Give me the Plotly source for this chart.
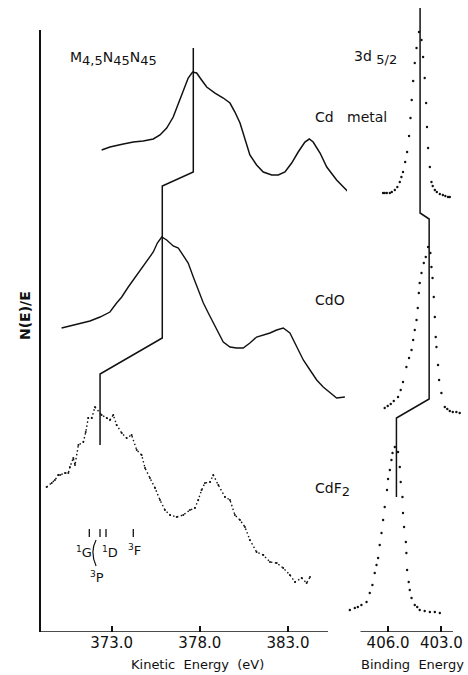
import plotly.graph_objects as go

# ==================================== data
# intensities are in arbitrary units, stacked with offsets as in the original

# Auger M4,5N45N45, kinetic energy (eV)
metal_ke = [372.43, 372.90, 373.66, 374.23, 374.79, 375.36, 375.74, 376.12, 376.49, 376.78,
            377.06, 377.34, 377.59, 377.82, 378.10, 378.39, 378.86, 379.33, 379.71, 379.99,
            380.28, 380.56, 380.84, 381.22, 381.60, 382.08, 382.45, 382.83, 383.21, 383.58,
            383.96, 384.21, 384.43, 384.82, 385.20, 385.76, 386.23, 386.70]
metal_auger = [482, 485, 488, 490, 491, 493, 497, 504, 515, 529,
               542, 554, 560, 559, 552, 545, 539, 534, 529, 520,
               509, 492, 477, 467, 460, 457, 457, 460, 469, 480,
               490, 493, 490, 479, 465, 452, 444, 435]

cdo_ke = [370.16, 370.63, 371.20, 371.77, 372.34, 372.90, 373.28, 373.57, 373.94, 374.23,
          374.51, 374.79, 375.08, 375.36, 375.59, 375.84, 376.12, 376.49, 376.78, 377.06,
          377.34, 377.63, 377.91, 378.20, 378.48, 378.76, 379.05, 379.33, 379.71, 380.09,
          380.46, 380.84, 381.22, 381.60, 381.98, 382.36, 382.73, 383.11, 383.49, 383.87,
          384.25, 384.63, 385.00, 385.38, 385.76, 386.23]
cdo_auger = [304, 306, 308, 311, 315, 320, 329, 335, 345, 352,
             359, 365, 373, 380, 389, 395, 392, 386, 384, 376,
             369, 355, 342, 329, 319, 309, 299, 290, 285, 284,
             284, 289, 295, 297, 299, 302, 304, 299, 285, 272,
             262, 252, 245, 239, 234, 235]

cdf2_ke = [369.31, 369.60, 369.78, 369.97, 370.07, 370.35, 370.54, 370.63, 370.82, 370.92,
           371.11, 371.39, 371.53, 371.67, 371.87, 372.05, 372.43, 372.72, 372.90, 373.09,
           373.28, 373.57, 373.85, 374.13, 374.42, 374.70, 374.89, 375.17, 375.46, 375.74,
           376.02, 376.31, 376.69, 377.06, 377.44, 377.72, 377.91, 378.10, 378.29, 378.58,
           378.76, 379.05, 379.43, 379.71, 379.99, 380.28, 380.56, 380.84, 381.22, 381.60,
           381.98, 382.36, 382.73, 383.11, 383.40, 383.78, 384.06, 384.25]
cdf2_auger = [145, 149, 152, 157, 157, 159, 159, 165, 174, 167,
              187, 190, 200, 214, 214, 225, 217, 214, 212, 217,
              207, 199, 194, 197, 182, 177, 164, 154, 144, 132,
              122, 117, 115, 117, 122, 124, 132, 142, 149, 150,
              157, 147, 135, 132, 117, 112, 105, 92, 80, 77,
              70, 69, 64, 57, 50, 54, 49, 55]

# peak-shift guide line through the Auger maxima
ke_guide = [377.63, 377.63, 375.87, 375.87, 372.34, 372.34]
ke_guide_i = [584, 460, 446, 294, 258, 187]

# XPS 3d5/2, binding energy (eV)
metal_be = [406.28, 406.19, 406.07, 405.90, 405.79, 405.62, 405.48, 405.34, 405.25, 405.16,
            405.04, 404.93, 404.82, 404.74, 404.67, 404.59, 404.50, 404.40, 404.26, 404.12,
            404.03, 403.94, 403.86, 403.81, 403.75, 403.65, 403.56, 403.49, 403.37, 403.26,
            403.09, 402.92, 402.78, 402.63, 402.53]
metal_3d = [439, 439, 439, 439, 440, 442, 445, 450, 455, 460,
            470, 480, 496, 514, 532, 551, 569, 584, 600, 592,
            575, 554, 529, 505, 484, 465, 450, 446, 442, 440,
            438, 437, 436, 435, 435]

cdo_be = [406.19, 406.02, 405.85, 405.68, 405.44, 405.29, 405.16, 404.97, 404.82, 404.68,
          404.59, 404.50, 404.40, 404.33, 404.27, 404.22, 404.12, 403.99, 403.88, 403.75,
          403.62, 403.56, 403.50, 403.43, 403.37, 403.32, 403.28, 403.19, 403.13, 403.00,
          402.81, 402.67, 402.53, 402.36, 402.16, 401.97]
cdo_3d = [224, 226, 228, 231, 235, 242, 250, 265, 274, 282,
          292, 302, 312, 324, 339, 349, 359, 369, 375, 385,
          379, 365, 354, 335, 315, 295, 285, 267, 252, 239,
          225, 223, 221, 220, 220, 219]

cdf2_be = [408.15, 407.87, 407.70, 407.50, 407.21, 407.03, 406.88, 406.75, 406.65, 406.56,
           406.47, 406.37, 406.28, 406.19, 406.06, 406.00, 405.90, 405.81, 405.75, 405.62,
           405.44, 405.34, 405.29, 405.19, 405.16, 405.10, 405.00, 404.97, 404.93, 404.84,
           404.78, 404.68, 404.50, 404.36, 404.22, 403.94, 403.65, 403.37, 403.09]
cdf2_3d = [22, 24, 25, 27, 30, 39, 47, 59, 67, 74,
           87, 99, 112, 125, 142, 153, 162, 172, 179, 185,
           180, 165, 150, 135, 119, 105, 90, 79, 62, 50,
           42, 34, 27, 25, 22, 21, 20, 20, 19]

be_guide = [404.20, 404.20, 403.69, 403.69, 405.53, 405.53]
be_guide_i = [624, 419, 413, 233, 214, 135]

ke_ticks = [373.0, 378.0, 383.0]
be_ticks = [406.0, 403.0]
ke_axis_span = [368.99, 385.27]
be_axis_span = [407.55, 402.35]

# ====================================

INK = '#111111'
FONT = 'DejaVu Sans'

fig = go.Figure()

# Auger spectra
fig.add_trace(go.Scatter(x=metal_ke, y=metal_auger, mode='lines',
                         line=dict(color=INK, width=1.5), xaxis='x', yaxis='y'))
fig.add_trace(go.Scatter(x=cdo_ke, y=cdo_auger, mode='lines',
                         line=dict(color=INK, width=1.4), xaxis='x', yaxis='y'))
fig.add_trace(go.Scatter(x=cdf2_ke, y=cdf2_auger, mode='lines+markers',
                         line=dict(color=INK, width=1.4, dash='1.5px,2.5px'),
                         marker=dict(color=INK, size=2), xaxis='x', yaxis='y'))
fig.add_trace(go.Scatter(x=ke_guide, y=ke_guide_i, mode='lines',
                         line=dict(color=INK, width=1.5), xaxis='x', yaxis='y'))

# XPS 3d5/2 peaks
for be, inten in [(metal_be, metal_3d), (cdo_be, cdo_3d), (cdf2_be, cdf2_3d)]:
    fig.add_trace(go.Scatter(x=be, y=inten, mode='markers', cliponaxis=False,
                             marker=dict(color=INK, size=2.4), xaxis='x2', yaxis='y2'))
fig.add_trace(go.Scatter(x=be_guide, y=be_guide_i, mode='lines',
                         line=dict(color=INK, width=1.5), xaxis='x2', yaxis='y2'))

axis_common = dict(showgrid=False, zeroline=False, ticks='inside', ticklen=6,
                   tickwidth=1.5, tickcolor=INK, tickformat='.1f',
                   tickfont=dict(family=FONT, size=15, color=INK))

# small marks for the term positions, and the bracket joining 3P to them
term_marks = [dict(type='line', xref='paper', yref='paper', x0=xm, x1=xm,
                   y0=0.1515, y1=0.1643, line=dict(color=INK, width=1.3))
              for xm in [0.1142, 0.1395, 0.1537, 0.2182]]
bracket = dict(type='path', xref='paper', yref='paper',
               path='M0.1302,0.1467 Q0.1150,0.1276 0.1302,0.1053',
               line=dict(color=INK, width=1.2))

fig.update_layout(
    width=468, height=675,
    showlegend=False,
    paper_bgcolor='white',
    plot_bgcolor='white',
    margin=dict(t=5, b=43, l=41, r=4),
    xaxis=dict(domain=[0, 0.7447], range=[368.99, 386.86], tickvals=ke_ticks,
               anchor='y', showline=False, **axis_common),
    xaxis2=dict(domain=[0.7234, 1.0], range=[408.31, 401.73], tickvals=be_ticks,
                anchor='y2', showline=False, **axis_common),
    yaxis=dict(domain=[0, 0.9601], range=[0, 602], anchor='x', showline=True,
               linecolor=INK, linewidth=1.5, showticklabels=False, ticks='',
               showgrid=False, zeroline=False),
    yaxis2=dict(domain=[0, 1], range=[0, 627], anchor='x2', visible=False),
    shapes=[
        dict(type='line', xref='x', yref='y', x0=ke_axis_span[0], x1=ke_axis_span[1],
             y0=0, y1=0, line=dict(color=INK, width=1.5)),
        dict(type='line', xref='x2', yref='y2', x0=be_axis_span[0], x1=be_axis_span[1],
             y0=0, y1=0, line=dict(color=INK, width=1.5)),
        bracket,
    ] + term_marks,
)

def label(text, x, y, size=13, xanchor='left', angle=0):
    fig.add_annotation(text=text, x=x, y=y, xref='paper', yref='paper',
                       xanchor=xanchor, yanchor='middle', showarrow=False,
                       textangle=angle, font=dict(family=FONT, size=size, color=INK))

sub = '<sub><span style="font-size:13px">{}</span></sub>'
label('M' + sub.format('4,5') + 'N' + sub.format('45') + 'N' + sub.format('45'),
      0.0638, 0.914, size=14)
label('3d ' + sub.format('5/2'), 0.7352, 0.917, size=14)
label('Cd   metal', 0.643, 0.8214, size=14)
label('CdO', 0.643, 0.5295, size=14)
label('CdF' + sub.format('2'), 0.643, 0.2265, size=14)
label('<b>N(E)/E</b>', -0.0378, 0.504, size=14, xanchor='center', angle=-90)
label('Kinetic  Energy  (eV)', 0.3688, -0.0526, size=13, xanchor='center')
label('Binding  Energy', 0.8794, -0.0526, size=13, xanchor='center')

label('<sup>1</sup>G', 0.1005, 0.1276, size=13, xanchor='center')
label('<sup>1</sup>D', 0.1631, 0.1276, size=13, xanchor='center')
label('<sup>3</sup>F', 0.2222, 0.1308, size=13, xanchor='center')
label('<sup>3</sup>P', 0.1324, 0.0880, size=13, xanchor='center')

# the page body has a default 8px margin; drop it so the figure fills the window
fig.write_html("out.html", config={'displayModeBar': False},
               post_script="document.body.style.margin='0px';")
